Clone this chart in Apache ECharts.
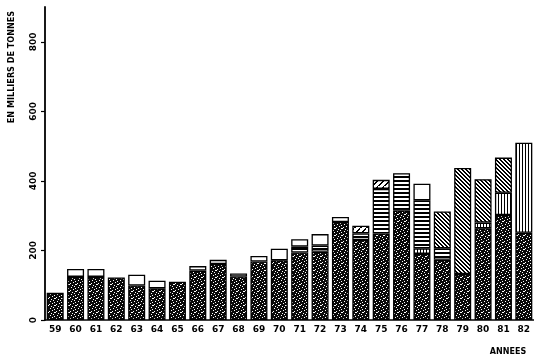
<!DOCTYPE html>
<html><head><meta charset="utf-8">
<script src="https://cdn.jsdelivr.net/npm/echarts@6/dist/echarts.min.js"></script>
<style>html,body{margin:0;padding:0;background:#fff}#c{width:534px;height:357px}</style>
</head><body><div id="c"></div>
<script>
const N = null;
const years = ['59','60','61','62','63','64','65','66','67','68','69','70','71','72','73','74','75','76','77','78','79','80','81','82'];
const yTicks = [0, 200, 400, 600, 800];
const stipple = [78,124,124,122,99,91,110,142,161,125,168,172,194,196,282,230,249,315,190,173,132,264,302,251];
const vlines  = [N,N,N,N,N,N,N,N,N,N,N,N,N,N,N,N,N,N,16,N,N,16,64,259];
const hlines  = [N,N,N,N,N,N,N,N,N,N,N,N,17,18,N,19,128,107,138,33,N,N,N,N];
const diag    = [N,N,N,N,N,N,N,N,N,N,N,N,N,N,N,N,N,N,N,106,305,125,101,N];
const cap     = [N,N,N,N,N,N,N,N,N,N,N,N,N,N,N,22,26,N,N,N,N,N,N,N];
const white   = [N,23,23,N,31,22,N,13,12,9,16,33,21,33,14,N,N,N,48,N,N,N,N,N];

function pattern(w, h, bg, draw) {
  const c = document.createElement('canvas');
  c.width = w; c.height = h;
  const g = c.getContext('2d');
  g.fillStyle = bg; g.fillRect(0, 0, w, h);
  draw(g);
  return { image: c, repeat: 'repeat' };
}
const pStipple = pattern(7, 7, '#0a0a0a', g => {
  g.fillStyle = '#fff';
  [[1,0],[5,1],[3,2],[0,3],[6,4],[2,5],[4,6],[5,4]].forEach(p => g.fillRect(p[0], p[1], 1, 1));
});
const pH = pattern(4, 4, '#fff', g => { g.fillStyle = '#000'; g.fillRect(0, 0, 4, 2); });
const pV = pattern(3, 3, '#fff', g => { g.fillStyle = '#000'; g.fillRect(0, 0, 1, 3); });
const pD = pattern(4, 4, '#fff', g => { g.fillStyle = '#000'; for (let i = 0; i < 4; i++) { g.fillRect(i, i, 1, 1); g.fillRect((i + 1) % 4, i, 1, 1); } });
const pC = pattern(6, 6, '#fff', g => { g.fillStyle = '#000'; for (let i = 0; i < 6; i++) { g.fillRect(5 - i, i, 2, 1); } });

const border = { borderColor: '#000', borderWidth: 1.3 };
function bar(name, data, color) {
  return { name, type: 'bar', stack: 'a', data, barWidth: 17, itemStyle: Object.assign({ color }, border) };
}
const font = 'DejaVu Sans';
const chart = echarts.init(document.getElementById('c'), null, { renderer: 'canvas' });
chart.setOption({
  animation: false,
  backgroundColor: '#fff',
  grid: { left: 45, right: -2, top: 7, bottom: 37, containLabel: false },
  xAxis: {
    type: 'category', data: years,
    axisLine: { lineStyle: { color: '#000', width: 1.5 } },
    axisTick: { alignWithLabel: true, length: 4, lineStyle: { color: '#000', width: 1.2 } },
    axisLabel: { color: '#000', fontFamily: font, fontWeight: 'bold', fontSize: 9, margin: 5, interval: 0 }
  },
  yAxis: {
    type: 'value', min: 0, max: 900,
    splitLine: { show: false },
    axisLine: { show: true, lineStyle: { color: '#000', width: 1.8 } },
    axisTick: { show: true, length: 4, customValues: yTicks, lineStyle: { color: '#000', width: 1.2 } },
    axisLabel: { color: '#000', fontFamily: font, fontWeight: 'bold', fontSize: 9, rotate: 90, margin: 7, customValues: yTicks }
  },
  graphic: [
    { type: 'text', x: 12, y: 67, rotation: Math.PI / 2,
      style: { text: 'EN MILLIERS DE TONNES', font: 'bold 9px "DejaVu Sans Condensed"', fill: '#000', align: 'center', verticalAlign: 'middle' } },
    { type: 'text', x: 508, y: 352,
      style: { text: 'ANNEES', font: 'bold 8px "DejaVu Sans"', fill: '#000', align: 'center', verticalAlign: 'middle' } }
  ],
  series: [
    bar('stipple', stipple, pStipple),
    bar('vlines', vlines, pV),
    bar('hlines', hlines, pH),
    bar('diag', diag, pD),
    bar('cap', cap, pC),
    bar('white', white, '#fff')
  ]
});
</script></body></html>
